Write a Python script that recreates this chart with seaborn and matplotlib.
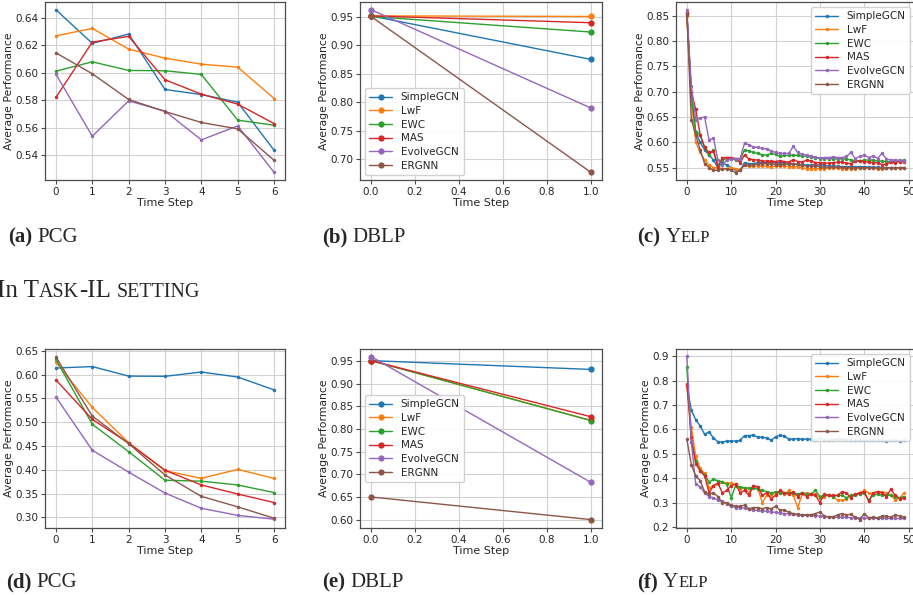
import numpy as np
import pandas as pd
import seaborn as sns
import matplotlib.pyplot as plt

methods = ["SimpleGCN", "LwF", "EWC", "MAS", "EvolveGCN", "ERGNN"]
colors = sns.color_palette("tab10")[:6]

# (a) PCG, class-IL
pcg_steps = [0, 1, 2, 3, 4, 5, 6]
pcg_class = {
    "SimpleGCN": [0.646, 0.6215, 0.6283, 0.5878, 0.5841, 0.5785, 0.5434],
    "LwF": [0.627, 0.6324, 0.6173, 0.6107, 0.6063, 0.6041, 0.5812],
    "EWC": [0.6012, 0.608, 0.6017, 0.6015, 0.5988, 0.5654, 0.5617],
    "MAS": [0.582, 0.6224, 0.6266, 0.5949, 0.5844, 0.5771, 0.5629],
    "EvolveGCN": [0.599, 0.5537, 0.5795, 0.572, 0.551, 0.5612, 0.5273],
    "ERGNN": [0.6146, 0.5993, 0.5805, 0.5717, 0.5637, 0.559, 0.5361],
}

# (b) DBLP, class-IL
dblp_steps = [0.0, 1.0]
dblp_class = {
    "SimpleGCN": [0.952, 0.8755],
    "LwF": [0.952, 0.951],
    "EWC": [0.951, 0.9236],
    "MAS": [0.952, 0.940],
    "EvolveGCN": [0.963, 0.790],
    "ERGNN": [0.951, 0.677],
}

# (c) YELP, class-IL
yelp_steps = list(range(50))
yelp_class = {
    "SimpleGCN": [0.855, 0.70, 0.62, 0.60, 0.585, 0.575, 0.565, 0.55, 0.56, 0.555,
                  0.55, 0.545, 0.545, 0.56, 0.558, 0.558, 0.56, 0.56, 0.56, 0.56,
                  0.56, 0.56, 0.56, 0.558, 0.558, 0.556, 0.556, 0.555, 0.555, 0.555,
                  0.556, 0.555, 0.553, 0.553, 0.553, 0.552, 0.552, 0.552, 0.552, 0.552,
                  0.552, 0.551, 0.551, 0.551, 0.550, 0.550, 0.550, 0.550, 0.550, 0.550],
    "LwF": [0.85, 0.68, 0.60, 0.58, 0.565, 0.555, 0.55, 0.55, 0.548, 0.548,
            0.55, 0.548, 0.545, 0.555, 0.553, 0.553, 0.553, 0.553, 0.553, 0.552,
            0.553, 0.553, 0.553, 0.552, 0.552, 0.552, 0.550, 0.548, 0.548, 0.548,
            0.548, 0.548, 0.549, 0.549, 0.549, 0.548, 0.548, 0.548, 0.548, 0.549,
            0.549, 0.549, 0.549, 0.548, 0.548, 0.549, 0.549, 0.549, 0.549, 0.549],
    "EWC": [0.855, 0.69, 0.62, 0.615, 0.59, 0.575, 0.585, 0.555, 0.565, 0.568,
            0.568, 0.565, 0.565, 0.585, 0.583, 0.58, 0.578, 0.575, 0.575, 0.578,
            0.576, 0.572, 0.574, 0.574, 0.575, 0.574, 0.573, 0.573, 0.571, 0.57,
            0.568, 0.568, 0.568, 0.568, 0.567, 0.568, 0.567, 0.565, 0.563, 0.563,
            0.565, 0.565, 0.565, 0.563, 0.563, 0.562, 0.562, 0.562, 0.563, 0.565],
    "MAS": [0.855, 0.70, 0.665, 0.615, 0.59, 0.58, 0.582, 0.55, 0.57, 0.57,
            0.57, 0.568, 0.56, 0.575, 0.567, 0.566, 0.565, 0.563, 0.563, 0.563,
            0.562, 0.564, 0.562, 0.561, 0.566, 0.562, 0.561, 0.565, 0.563, 0.56,
            0.56, 0.559, 0.559, 0.56, 0.561, 0.561, 0.559, 0.558, 0.563, 0.564,
            0.562, 0.561, 0.56, 0.56, 0.556, 0.557, 0.561, 0.56, 0.562, 0.561],
    "EvolveGCN": [0.862, 0.712, 0.645, 0.648, 0.65, 0.605, 0.608, 0.565, 0.555, 0.565,
                  0.567, 0.568, 0.568, 0.598, 0.595, 0.591, 0.59, 0.588, 0.587, 0.583,
                  0.58, 0.578, 0.578, 0.578, 0.592, 0.58, 0.576, 0.575, 0.572, 0.571,
                  0.569, 0.57, 0.57, 0.571, 0.57, 0.57, 0.572, 0.58, 0.568, 0.572,
                  0.575, 0.57, 0.573, 0.568, 0.578, 0.567, 0.565, 0.565, 0.565, 0.563],
    "ERGNN": [0.852, 0.645, 0.615, 0.585, 0.558, 0.55, 0.545, 0.545, 0.548, 0.548,
              0.545, 0.54, 0.545, 0.555, 0.555, 0.555, 0.558, 0.558, 0.558, 0.558,
              0.556, 0.556, 0.557, 0.557, 0.557, 0.557, 0.555, 0.553, 0.553, 0.553,
              0.552, 0.551, 0.551, 0.551, 0.551, 0.551, 0.55, 0.55, 0.55, 0.55,
              0.55, 0.55, 0.55, 0.549, 0.549, 0.549, 0.55, 0.55, 0.55, 0.55],
}

# (d) PCG, task-IL
pcg_task = {
    "SimpleGCN": [0.614, 0.617, 0.597, 0.5965, 0.6056, 0.595, 0.568],
    "LwF": [0.626, 0.531, 0.457, 0.398, 0.382, 0.4007, 0.382],
    "EWC": [0.632, 0.4958, 0.438, 0.378, 0.376, 0.368, 0.352],
    "MAS": [0.589, 0.506, 0.456, 0.399, 0.368, 0.349, 0.331],
    "EvolveGCN": [0.553, 0.441, 0.395, 0.351, 0.319, 0.304, 0.296],
    "ERGNN": [0.637, 0.513, 0.455, 0.389, 0.344, 0.322, 0.298],
}

# (e) DBLP, task-IL
dblp_task = {
    "SimpleGCN": [0.951, 0.9315],
    "LwF": [0.951, 0.819],
    "EWC": [0.951, 0.8185],
    "MAS": [0.951, 0.827],
    "EvolveGCN": [0.960, 0.682],
    "ERGNN": [0.650, 0.600],
}

# (f) YELP, task-IL
yelp_task = {
    "SimpleGCN": [0.78, 0.68, 0.64, 0.615, 0.58, 0.59, 0.565, 0.55, 0.548, 0.553,
                  0.553, 0.552, 0.555, 0.575, 0.575, 0.577, 0.568, 0.568, 0.565, 0.556,
                  0.57, 0.577, 0.572, 0.56, 0.56, 0.563, 0.56, 0.56, 0.56, 0.555,
                  0.565, 0.557, 0.557, 0.558, 0.56, 0.56, 0.558, 0.556, 0.555, 0.555,
                  0.555, 0.555, 0.555, 0.556, 0.556, 0.554, 0.555, 0.555, 0.553, 0.556],
    "LwF": [0.78, 0.61, 0.49, 0.44, 0.42, 0.36, 0.37, 0.375, 0.385, 0.38,
            0.38, 0.375, 0.355, 0.36, 0.34, 0.37, 0.36, 0.30, 0.33, 0.33,
            0.34, 0.34, 0.335, 0.35, 0.33, 0.28, 0.335, 0.34, 0.335, 0.335,
            0.32, 0.325, 0.33, 0.325, 0.31, 0.31, 0.315, 0.33, 0.335, 0.34,
            0.35, 0.34, 0.335, 0.345, 0.345, 0.34, 0.33, 0.31, 0.32, 0.34],
    "EWC": [0.855, 0.55, 0.47, 0.43, 0.415, 0.385, 0.395, 0.39, 0.385, 0.375,
            0.32, 0.37, 0.365, 0.36, 0.36, 0.36, 0.355, 0.35, 0.345, 0.34,
            0.345, 0.34, 0.34, 0.34, 0.34, 0.335, 0.34, 0.335, 0.335, 0.35,
            0.325, 0.33, 0.33, 0.325, 0.33, 0.33, 0.32, 0.33, 0.33, 0.335,
            0.34, 0.31, 0.33, 0.335, 0.33, 0.33, 0.33, 0.325, 0.32, 0.325],
    "MAS": [0.785, 0.57, 0.46, 0.43, 0.41, 0.34, 0.37, 0.38, 0.34, 0.35,
            0.37, 0.375, 0.34, 0.35, 0.33, 0.37, 0.365, 0.33, 0.34, 0.315,
            0.33, 0.35, 0.34, 0.335, 0.345, 0.325, 0.34, 0.325, 0.335, 0.33,
            0.30, 0.335, 0.33, 0.33, 0.33, 0.345, 0.34, 0.32, 0.335, 0.34,
            0.345, 0.305, 0.34, 0.345, 0.34, 0.325, 0.355, 0.33, 0.315, 0.32],
    "EvolveGCN": [0.90, 0.55, 0.375, 0.365, 0.34, 0.325, 0.32, 0.31, 0.305, 0.295,
                  0.285, 0.28, 0.28, 0.278, 0.272, 0.27, 0.268, 0.265, 0.265, 0.262,
                  0.26, 0.258, 0.255, 0.255, 0.252, 0.25, 0.25, 0.248, 0.248, 0.246,
                  0.245, 0.243, 0.242, 0.241, 0.24, 0.24, 0.24, 0.238, 0.238, 0.237,
                  0.237, 0.236, 0.236, 0.236, 0.236, 0.235, 0.235, 0.235, 0.235, 0.235],
    "ERGNN": [0.56, 0.455, 0.41, 0.39, 0.345, 0.335, 0.34, 0.325, 0.30, 0.30,
              0.29, 0.285, 0.285, 0.29, 0.275, 0.28, 0.28, 0.275, 0.28, 0.275,
              0.285, 0.27, 0.27, 0.26, 0.255, 0.252, 0.25, 0.25, 0.25, 0.255,
              0.262, 0.245, 0.24, 0.242, 0.25, 0.255, 0.25, 0.252, 0.24, 0.23,
              0.255, 0.238, 0.24, 0.238, 0.245, 0.245, 0.24, 0.25, 0.245, 0.24],
}

sns.set_style("whitegrid", {
    "axes.edgecolor": "0.3",
    "grid.color": "0.82",
    "xtick.bottom": True,
    "ytick.left": True,
})
plt.rcParams["font.family"] = ["DejaVu Sans"]

fig = plt.figure(figsize=(9.13, 5.95), dpi=100)

W, H = 913, 595
def box(l, t, r, b):
    return [l / W, 1 - b / H, (r - l) / W, (b - t) / H]

panels = [
    (box(45, 2, 285, 180), pcg_steps, pcg_class, 2.5, None, (0.5217, 0.6517), [0.54, 0.56, 0.58, 0.60, 0.62, 0.64]),
    (box(360, 2, 602, 180), dblp_steps, dblp_class, 4.5, "lower left", (0.6636, 0.9764), [0.70, 0.75, 0.80, 0.85, 0.90, 0.95]),
    (box(676, 2, 915, 180), yelp_steps, yelp_class, 2.5, "upper right", (0.5256, 0.877), [0.55, 0.60, 0.65, 0.70, 0.75, 0.80, 0.85]),
    (box(45, 349, 285, 528), pcg_steps, pcg_task, 2.5, None, (0.2775, 0.654), [0.30, 0.35, 0.40, 0.45, 0.50, 0.55, 0.60, 0.65]),
    (box(360, 349, 602, 528), dblp_steps, dblp_task, 4.5, "center left", (0.5815, 0.9766), [0.60, 0.65, 0.70, 0.75, 0.80, 0.85, 0.90, 0.95]),
    (box(676, 349, 915, 528), yelp_steps, yelp_task, 2.5, "upper right", (0.196, 0.93), [0.2, 0.3, 0.4, 0.5, 0.6, 0.7, 0.8, 0.9]),
]

for rect, steps, data, msize, legloc, ylim, yticks in panels:
    ax = fig.add_axes(rect)
    for m, c in zip(methods, colors):
        sns.lineplot(x=steps, y=data[m], ax=ax, color=c, marker="o",
                     markersize=msize, markeredgewidth=0, linewidth=1.0,
                     label=m, legend=False)
    ax.set_ylim(*ylim)
    ax.set_yticks(yticks)
    ax.set_xlabel("Time Step", fontsize=8, labelpad=1)
    ax.set_ylabel("Average Performance", fontsize=7.8, labelpad=1)
    ax.tick_params(labelsize=7.5, length=3, pad=2, color="0.3")
    for s in ax.spines.values():
        s.set_linewidth(0.9)
    if legloc:
        ax.legend(loc=legloc, fontsize=7.5, labelspacing=0.35,
                  handlelength=2.2, frameon=True, borderpad=0.4,
                  framealpha=0.9)

renderer = fig.canvas.get_renderer()

def rich_text(x, y, parts):
    x = x / W
    y = 1 - y / H
    for s, size, weight in parts:
        t = fig.text(x, y, s, fontsize=size, fontweight=weight,
                     family="Liberation Serif", va="baseline", ha="left")
        bb = t.get_window_extent(renderer)
        x += bb.width / fig.bbox.width

big, small = 15, 12
gap = (" ", big, "normal")
rich_text(8, 242, [("(a)", big, "bold"), gap, ("PCG", big, "normal")])
rich_text(322, 242, [("(b)", big, "bold"), gap, ("DBLP", big, "normal")])
rich_text(637, 242, [("(c)", big, "bold"), gap, ("Y", big, "normal"), ("ELP", small, "normal")])
rich_text(-3, 297, [("In T", 18, "normal"), ("ASK", 14.4, "normal"), ("-IL", 18, "normal"),
                    (" ", 18, "normal"), ("SETTING", 14.4, "normal")])
rich_text(6, 587, [("(d)", big, "bold"), gap, ("PCG", big, "normal")])
rich_text(322, 587, [("(e)", big, "bold"), gap, ("DBLP", big, "normal")])
rich_text(637, 587, [("(f)", big, "bold"), gap, ("Y", big, "normal"), ("ELP", small, "normal")])

fig.savefig("out.png", dpi=100)
